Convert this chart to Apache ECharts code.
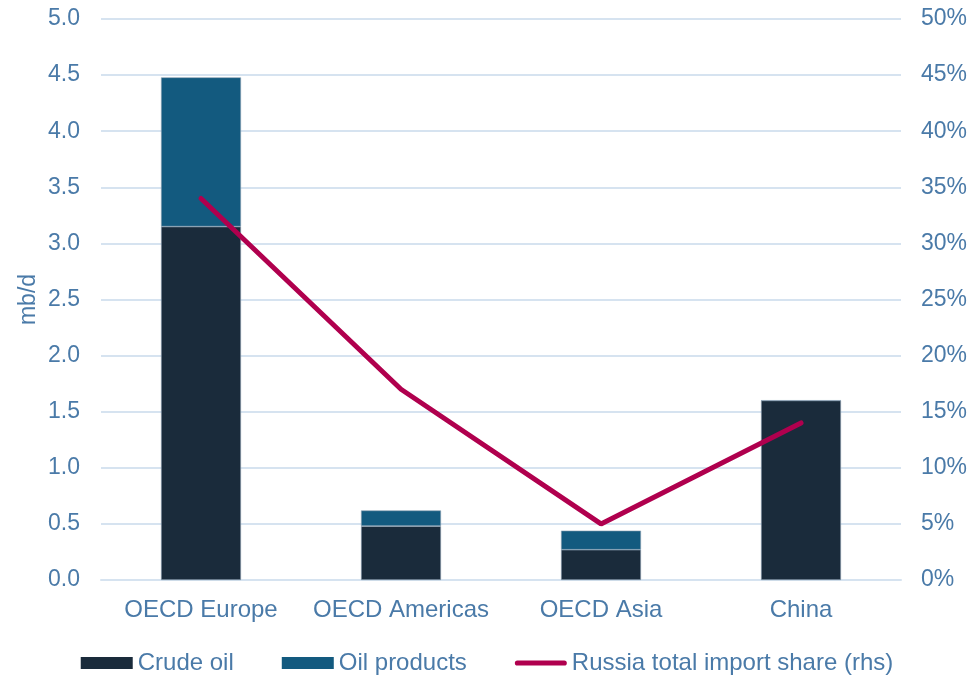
<!DOCTYPE html>
<html>
<head>
<meta charset="utf-8">
<script src="https://cdn.jsdelivr.net/npm/echarts@6/dist/echarts.min.js"></script>
<style>html,body{margin:0;padding:0;background:#fff}#c{width:974px;height:675px}</style>
</head>
<body>
<div id="c"></div>
<script>
const categories = ['OECD Europe', 'OECD Americas', 'OECD Asia', 'China'];
const crudeOil = [3.15, 0.48, 0.27, 1.6];
const oilProducts = [1.33, 0.14, 0.17, 0];
const russiaShare = [34, 17, 5, 14];
const leftTicks = { min: 0, max: 5, interval: 0.5 };
const rightTicks = { min: 0, max: 50, interval: 5 };

const labelColor = '#4a7aa8';
const font = 'Liberation Sans, Arial, sans-serif';
const fs = 23;
const fsx = 24;
const chart = echarts.init(document.getElementById('c'));
chart.setOption({
  animation: false,
  textStyle: { fontFamily: font },
  grid: { left: 101, right: 73, top: 19, bottom: 95 },
  legend: {
    top: 646,
    left: 'center',
    itemWidth: 52,
    itemHeight: 12,
    itemGap: 48,
    itemStyle: { borderWidth: 0 },
    textStyle: { color: labelColor, fontSize: fsx, fontFamily: font },
    data: [
      { name: 'Crude oil', icon: 'rect' },
      { name: 'Oil products', icon: 'rect' },
      { name: 'Russia total import share (rhs)', icon: 'path://M5,0 H95 A5,5 0 0 1 95,10 H5 A5,5 0 0 1 5,0 Z' }
    ]
  },
  xAxis: {
    type: 'category',
    data: categories,
    axisLine: { show: true, lineStyle: { color: '#d6e3f0', width: 2 } },
    axisTick: { show: false },
    axisLabel: { color: labelColor, fontSize: fsx, margin: 18, interval: 0 }
  },
  yAxis: [
    {
      type: 'value', min: leftTicks.min, max: leftTicks.max, interval: leftTicks.interval,
      name: 'mb/d', nameLocation: 'middle', nameGap: 61, nameRotate: 90, nameMoveOverlap: false,
      nameTextStyle: { color: labelColor, fontSize: fs },
      axisLabel: { color: labelColor, fontSize: fs, margin: 21, formatter: v => v.toFixed(1) },
      axisLine: { show: false }, axisTick: { show: false },
      splitLine: { lineStyle: { color: '#d6e3f0', width: 2 } }
    },
    {
      type: 'value', min: rightTicks.min, max: rightTicks.max, interval: rightTicks.interval,
      axisLabel: { color: labelColor, fontSize: fs, margin: 20, formatter: v => v + '%' },
      axisLine: { show: false }, axisTick: { show: false },
      splitLine: { show: false }
    }
  ],
  series: [
    {
      name: 'Crude oil', type: 'bar', stack: 'a', data: crudeOil, barWidth: '40%',
      itemStyle: { color: '#1a2b3b', borderColor: '#8fa3b5', borderWidth: 0.6 }
    },
    {
      name: 'Oil products', type: 'bar', stack: 'a', data: oilProducts, barWidth: '40%',
      itemStyle: { color: '#135a7f', borderColor: '#8fa3b5', borderWidth: 0.6 }
    },
    {
      name: 'Russia total import share (rhs)', type: 'line', yAxisIndex: 1, data: russiaShare,
      symbol: 'none', lineStyle: { color: '#b0004e', width: 5, cap: 'round' }, itemStyle: { color: '#b0004e' }
    }
  ]
});
</script>
</body>
</html>
